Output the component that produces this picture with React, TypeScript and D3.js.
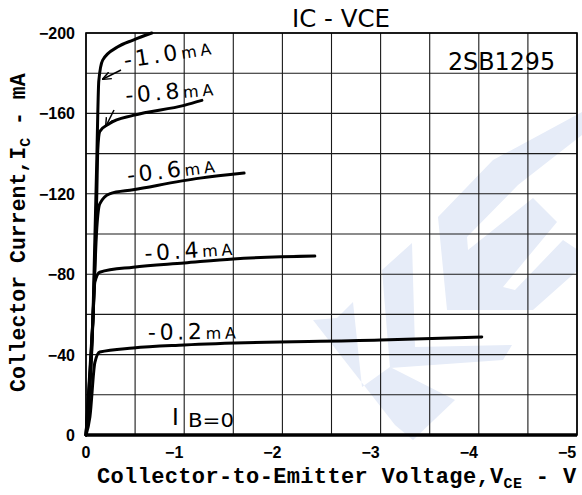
import React from 'react'
import * as d3 from 'd3'

// collector characteristics, IB in mA, points are [VCE (V), IC (mA)]
const baseCurrents = ['-1.0', '-0.8', '-0.6', '-0.4', '-0.2']
const ib10 = [[0, 0], [-0.07, -57], [-0.11, -137], [-0.12, -160], [-0.13, -176], [-0.17, -186.5], [-0.32, -193], [-0.48, -196.5], [-0.67, -200]]
const ib08 = [[0, 0], [-0.07, -57], [-0.11, -120], [-0.12, -142], [-0.14, -151], [-0.24, -155], [-0.48, -159], [-1.0, -164], [-1.18, -166.5]]
const ib06 = [[0, 0], [-0.07, -57], [-0.11, -103], [-0.14, -115], [-0.24, -120], [-0.48, -122], [-1.16, -127.8], [-1.61, -130.3]]
const ib04 = [[0, 0], [-0.07, -57], [-0.09, -76], [-0.14, -81], [-0.48, -83.5], [-1.0, -85.6], [-1.5, -87.6], [-2.33, -89]]
const ib02 = [[0, 0], [-0.04, -9], [-0.09, -36], [-0.14, -41.3], [-0.48, -43.3], [-1.0, -44.8], [-3.0, -47.3], [-4.03, -48.8]]
const ib00 = [[0, 0], [-5, 0]]
const series = [ib10, ib08, ib06, ib04, ib02]

const xTicks = [0, -1, -2, -3, -4, -5]
const yTicks = [0, -40, -80, -120, -160, -200]

const width = 582
const height = 495
const x = d3.scaleLinear().domain([0, -5]).range([86, 577])
const y = d3.scaleLinear().domain([0, -200]).range([435, 33])
const line = d3.line<number[]>()
  .x(d => x(d[0]))
  .y(d => y(d[1]))
  .curve(d3.curveMonotoneX)
const fmt = d3.format('d')

// label placement: left baseline point and tilt
const labelPos = [
  { x: 125, y: 68, rot: -9 },
  { x: 126, y: 103, rot: -5 },
  { x: 128, y: 183, rot: -7 },
  { x: 145, y: 261, rot: -4 },
  { x: 148, y: 340, rot: -1 },
]

// light blue logo in the background
const watermark = [
  [[313, 320], [337, 318], [353, 302], [362, 387], [390, 367], [455, 400], [413, 440], [395, 425]],
  [[382, 270], [412, 243], [415, 347], [512, 345], [503, 360], [390, 368]],
  [[438, 217], [493, 160], [582, 112], [582, 135], [518, 185], [467, 237], [468, 250], [533, 198], [557, 222], [503, 287], [515, 290], [563, 240], [578, 250], [578, 270], [533, 310], [447, 310]],
]

const sans = '"DejaVu Sans", sans-serif'
const slab = '"Liberation Mono", "Courier New", monospace'

export default function App() {
  const gridX = d3.range(0, -5.01, -0.5)
  const gridY = d3.range(0, -201, -20)
  return (
    <svg width={width} height={height} style={{ display: 'block', position: 'absolute', left: 0, top: 0, background: '#fff' }}>
      <defs>
        <marker id="arr" viewBox="0 0 10 10" refX="9" refY="5" markerWidth="6" markerHeight="6" orient="auto">
          <path d="M0,1 L10,5 L0,9" fill="none" stroke="#000" strokeWidth="1.6" />
        </marker>
      </defs>
      {watermark.map((p, i) => (
        <polygon key={i} points={p.map(q => q.join(',')).join(' ')} fill="#e6ecf8" />
      ))}
      <g stroke="#1a1a1a" strokeWidth={1.1}>
        {gridX.map(v => <line key={'x' + v} x1={x(v)} x2={x(v)} y1={y(0)} y2={y(-200)} />)}
        {gridY.map(v => <line key={'y' + v} x1={x(0)} x2={x(-5)} y1={y(v)} y2={y(v)} />)}
      </g>
      <rect x={x(0)} y={y(-200)} width={x(-5) - x(0)} height={y(0) - y(-200)} fill="none" stroke="#000" strokeWidth={1.6} />
      <path d={line(ib00) as string} fill="none" stroke="#000" strokeWidth={3.5} />
      {series.map((s, i) => (
        <path key={i} d={line(s) as string} fill="none" stroke="#000" strokeWidth={3} strokeLinejoin="round" strokeLinecap="round" />
      ))}
      {baseCurrents.map((b, i) => {
        const p = labelPos[i]
        return (
          <text key={b} transform={`translate(${p.x},${p.y}) rotate(${p.rot})`} fontFamily={sans} fontSize={22} textLength={88} lengthAdjust="spacing">
            {b}<tspan fontSize={16}>mA</tspan>
          </text>
        )
      })}
      <line x1={121} y1={70} x2={103} y2={79} stroke="#000" strokeWidth={1.5} markerEnd="url(#arr)" />
      <line x1={114} y1={110} x2={106} y2={126} stroke="#000" strokeWidth={1.5} markerEnd="url(#arr)" />
      <text x={172} y={425} fontFamily={sans} fontSize={23}>I</text>
      <text x={188} y={427} fontFamily={sans} fontSize={20} textLength={46} lengthAdjust="spacingAndGlyphs">B=0</text>
      <text x={292} y={27} fontFamily={sans} fontSize={24} textLength={98} lengthAdjust="spacingAndGlyphs">IC - VCE</text>
      <text x={448} y={70} fontFamily={sans} fontSize={24} textLength={107} lengthAdjust="spacingAndGlyphs">2SB1295</text>
      <g fontFamily='"Liberation Sans", Arial, sans-serif' fontWeight="bold" fontSize={16}>
        {xTicks.map(v => (
          <text key={v} x={v === 0 ? x(v) : x(v) - 10} y={458} textAnchor="middle">{fmt(v)}</text>
        ))}
        {yTicks.map(v => (
          <text key={v} x={75} y={y(v) + 6} textAnchor="end">{fmt(v)}</text>
        ))}
      </g>
      <text x={97} y={483} fontFamily={slab} fontWeight="bold" fontSize={22} letterSpacing={0.35}>
        Collector-to-Emitter Voltage,V<tspan fontSize={15} dy={5}>CE</tspan><tspan dy={-5}> - V</tspan>
      </text>
      <text transform="translate(25,392) rotate(-90)" fontFamily={slab} fontWeight="bold" fontSize={21.5}>
        Collector Current,I<tspan fontSize={15} dy={5}>C</tspan><tspan dy={-5}> - mA</tspan>
      </text>
    </svg>
  )
}
